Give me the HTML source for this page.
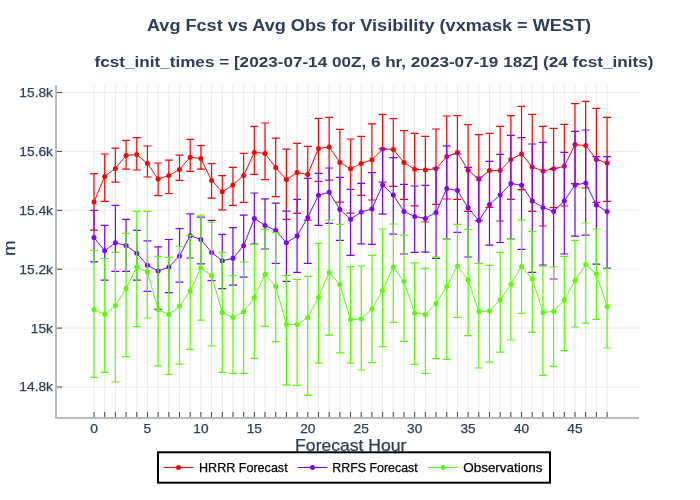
<!DOCTYPE html><html><head><meta charset="utf-8"><style>html,body{margin:0;padding:0;background:#fff;}body{width:700px;height:500px;overflow:hidden;}svg{display:block;will-change:transform;}text{font-family:"Liberation Sans", sans-serif;}</style></head><body>
<svg width="700" height="500" viewBox="0 0 700 500">
<rect width="700" height="500" fill="#fff"/>
<path d="M94.00 85.0V417.0M104.69 85.0V417.0M115.38 85.0V417.0M126.07 85.0V417.0M136.76 85.0V417.0M147.44 85.0V417.0M158.13 85.0V417.0M168.82 85.0V417.0M179.51 85.0V417.0M190.20 85.0V417.0M200.89 85.0V417.0M211.58 85.0V417.0M222.27 85.0V417.0M232.96 85.0V417.0M243.65 85.0V417.0M254.34 85.0V417.0M265.02 85.0V417.0M275.71 85.0V417.0M286.40 85.0V417.0M297.09 85.0V417.0M307.78 85.0V417.0M318.47 85.0V417.0M329.16 85.0V417.0M339.85 85.0V417.0M350.54 85.0V417.0M361.23 85.0V417.0M371.91 85.0V417.0M382.60 85.0V417.0M393.29 85.0V417.0M403.98 85.0V417.0M414.67 85.0V417.0M425.36 85.0V417.0M436.05 85.0V417.0M446.74 85.0V417.0M457.43 85.0V417.0M468.12 85.0V417.0M478.80 85.0V417.0M489.49 85.0V417.0M500.18 85.0V417.0M510.87 85.0V417.0M521.56 85.0V417.0M532.25 85.0V417.0M542.94 85.0V417.0M553.63 85.0V417.0M564.32 85.0V417.0M575.00 85.0V417.0M585.69 85.0V417.0M596.38 85.0V417.0M607.07 85.0V417.0" stroke="#ebebeb" stroke-width="1" fill="none"/>
<path d="M57.0 92.5H639.0M57.0 151.4H639.0M57.0 210.3H639.0M57.0 269.2H639.0M57.0 328.1H639.0M57.0 387.0H639.0" stroke="#ebebeb" stroke-width="1" fill="none"/>
<path d="M94.00 173.6V230.2M90.00 173.6H98.00M90.00 230.2H98.00M104.69 154.0V201.4M100.69 154.0H108.69M100.69 201.4H108.69M115.38 148.2V182.2M111.38 148.2H119.38M111.38 182.2H119.38M126.07 140.4V169.2M122.07 140.4H130.07M122.07 169.2H130.07M136.76 137.6V170.0M132.76 137.6H140.76M132.76 170.0H140.76M147.44 146.0V177.0M143.44 146.0H151.44M143.44 177.0H151.44M158.13 163.0V195.6M154.13 163.0H162.13M154.13 195.6H162.13M168.82 160.2V193.5M164.82 160.2H172.82M164.82 193.5H172.82M179.51 155.2V180.4M175.51 155.2H183.51M175.51 180.4H183.51M190.20 139.4V171.3M186.20 139.4H194.20M186.20 171.3H194.20M200.89 145.6V169.2M196.89 145.6H204.89M196.89 169.2H204.89M211.58 163.6V198.2M207.58 163.6H215.58M207.58 198.2H215.58M222.27 175.6V209.8M218.27 175.6H226.27M218.27 209.8H226.27M232.96 167.4V205.4M228.96 167.4H236.96M228.96 205.4H236.96M243.65 153.4V202.4M239.65 153.4H247.65M239.65 202.4H247.65M254.34 126.4V174.4M250.34 126.4H258.34M250.34 174.4H258.34M265.02 123.0V179.7M261.02 123.0H269.02M261.02 179.7H269.02M275.71 138.2V196.6M271.71 138.2H279.71M271.71 196.6H279.71M286.40 149.2V219.4M282.40 149.2H290.40M282.40 219.4H290.40M297.09 143.4V213.4M293.09 143.4H301.09M293.09 213.4H301.09M307.78 146.4V220.2M303.78 146.4H311.78M303.78 220.2H311.78M318.47 118.4V181.4M314.47 118.4H322.47M314.47 181.4H322.47M329.16 117.4V180.2M325.16 117.4H333.16M325.16 180.2H333.16M339.85 129.4V202.2M335.85 129.4H343.85M335.85 202.2H343.85M350.54 139.0V213.2M346.54 139.0H354.54M346.54 213.2H354.54M361.23 136.4V195.4M357.23 136.4H365.23M357.23 195.4H365.23M371.91 123.8V200.0M367.91 123.8H375.91M367.91 200.0H375.91M382.60 114.4V182.1M378.60 114.4H386.60M378.60 182.1H386.60M393.29 118.6V186.3M389.29 118.6H397.29M389.29 186.3H397.29M403.98 130.6V199.4M399.98 130.6H407.98M399.98 199.4H407.98M414.67 133.4V205.8M410.67 133.4H418.67M410.67 205.8H418.67M425.36 136.4V222.0M421.36 136.4H429.36M421.36 222.0H429.36M436.05 129.0V204.4M432.05 129.0H440.05M432.05 204.4H440.05M446.74 116.0V199.0M442.74 116.0H450.74M442.74 199.0H450.74M457.43 115.6V199.4M453.43 115.6H461.43M453.43 199.4H461.43M468.12 124.6V211.4M464.12 124.6H472.12M464.12 211.4H472.12M478.80 134.6V220.6M474.80 134.6H482.80M474.80 220.6H482.80M489.49 133.4V207.4M485.49 133.4H493.49M485.49 207.4H493.49M500.18 126.4V221.0M496.18 126.4H504.18M496.18 221.0H504.18M510.87 115.6V199.4M506.87 115.6H514.87M506.87 199.4H514.87M521.56 106.4V189.6M517.56 106.4H525.56M517.56 189.6H525.56M532.25 114.4V211.4M528.25 114.4H536.25M528.25 211.4H536.25M542.94 126.4V226.0M538.94 126.4H546.94M538.94 226.0H546.94M553.63 128.4V207.6M549.63 128.4H557.63M549.63 207.6H557.63M564.32 124.4V206.0M560.32 124.4H568.32M560.32 206.0H568.32M575.00 103.6V183.6M571.00 103.6H579.00M571.00 183.6H579.00M585.69 101.4V188.0M581.69 101.4H589.69M581.69 188.0H589.69M596.38 108.4V202.4M592.38 108.4H600.38M592.38 202.4H600.38M607.07 117.4V201.4M603.07 117.4H611.07M603.07 201.4H611.07" stroke="#ff0000" stroke-width="1.2" fill="none" opacity="1.0"/>
<polyline points="94.00,202.0 104.69,176.4 115.38,168.4 126.07,155.4 136.76,154.6 147.44,163.6 158.13,179.0 168.82,175.5 179.51,169.5 190.20,157.2 200.89,158.6 211.58,180.4 222.27,191.8 232.96,185.0 243.65,175.4 254.34,152.4 265.02,153.4 275.71,167.5 286.40,179.6 297.09,172.6 307.78,174.4 318.47,148.4 329.16,147.0 339.85,162.4 350.54,168.7 361.23,163.4 371.91,159.8 382.60,149.0 393.29,149.4 403.98,162.6 414.67,169.2 425.36,169.9 436.05,168.8 446.74,156.6 457.43,152.6 468.12,170.2 478.80,179.2 489.49,170.6 500.18,170.5 510.87,159.4 521.56,154.0 532.25,167.0 542.94,171.0 553.63,168.8 564.32,166.3 575.00,144.6 585.69,145.6 596.38,159.4 607.07,163.0" stroke="#ff0000" stroke-width="1.0" fill="none"/>
<circle cx="94.00" cy="202.0" r="2.5" fill="#ff0000"/>
<circle cx="104.69" cy="176.4" r="2.5" fill="#ff0000"/>
<circle cx="115.38" cy="168.4" r="2.5" fill="#ff0000"/>
<circle cx="126.07" cy="155.4" r="2.5" fill="#ff0000"/>
<circle cx="136.76" cy="154.6" r="2.5" fill="#ff0000"/>
<circle cx="147.44" cy="163.6" r="2.5" fill="#ff0000"/>
<circle cx="158.13" cy="179.0" r="2.5" fill="#ff0000"/>
<circle cx="168.82" cy="175.5" r="2.5" fill="#ff0000"/>
<circle cx="179.51" cy="169.5" r="2.5" fill="#ff0000"/>
<circle cx="190.20" cy="157.2" r="2.5" fill="#ff0000"/>
<circle cx="200.89" cy="158.6" r="2.5" fill="#ff0000"/>
<circle cx="211.58" cy="180.4" r="2.5" fill="#ff0000"/>
<circle cx="222.27" cy="191.8" r="2.5" fill="#ff0000"/>
<circle cx="232.96" cy="185.0" r="2.5" fill="#ff0000"/>
<circle cx="243.65" cy="175.4" r="2.5" fill="#ff0000"/>
<circle cx="254.34" cy="152.4" r="2.5" fill="#ff0000"/>
<circle cx="265.02" cy="153.4" r="2.5" fill="#ff0000"/>
<circle cx="275.71" cy="167.5" r="2.5" fill="#ff0000"/>
<circle cx="286.40" cy="179.6" r="2.5" fill="#ff0000"/>
<circle cx="297.09" cy="172.6" r="2.5" fill="#ff0000"/>
<circle cx="307.78" cy="174.4" r="2.5" fill="#ff0000"/>
<circle cx="318.47" cy="148.4" r="2.5" fill="#ff0000"/>
<circle cx="329.16" cy="147.0" r="2.5" fill="#ff0000"/>
<circle cx="339.85" cy="162.4" r="2.5" fill="#ff0000"/>
<circle cx="350.54" cy="168.7" r="2.5" fill="#ff0000"/>
<circle cx="361.23" cy="163.4" r="2.5" fill="#ff0000"/>
<circle cx="371.91" cy="159.8" r="2.5" fill="#ff0000"/>
<circle cx="382.60" cy="149.0" r="2.5" fill="#ff0000"/>
<circle cx="393.29" cy="149.4" r="2.5" fill="#ff0000"/>
<circle cx="403.98" cy="162.6" r="2.5" fill="#ff0000"/>
<circle cx="414.67" cy="169.2" r="2.5" fill="#ff0000"/>
<circle cx="425.36" cy="169.9" r="2.5" fill="#ff0000"/>
<circle cx="436.05" cy="168.8" r="2.5" fill="#ff0000"/>
<circle cx="446.74" cy="156.6" r="2.5" fill="#ff0000"/>
<circle cx="457.43" cy="152.6" r="2.5" fill="#ff0000"/>
<circle cx="468.12" cy="170.2" r="2.5" fill="#ff0000"/>
<circle cx="478.80" cy="179.2" r="2.5" fill="#ff0000"/>
<circle cx="489.49" cy="170.6" r="2.5" fill="#ff0000"/>
<circle cx="500.18" cy="170.5" r="2.5" fill="#ff0000"/>
<circle cx="510.87" cy="159.4" r="2.5" fill="#ff0000"/>
<circle cx="521.56" cy="154.0" r="2.5" fill="#ff0000"/>
<circle cx="532.25" cy="167.0" r="2.5" fill="#ff0000"/>
<circle cx="542.94" cy="171.0" r="2.5" fill="#ff0000"/>
<circle cx="553.63" cy="168.8" r="2.5" fill="#ff0000"/>
<circle cx="564.32" cy="166.3" r="2.5" fill="#ff0000"/>
<circle cx="575.00" cy="144.6" r="2.5" fill="#ff0000"/>
<circle cx="585.69" cy="145.6" r="2.5" fill="#ff0000"/>
<circle cx="596.38" cy="159.4" r="2.5" fill="#ff0000"/>
<circle cx="607.07" cy="163.0" r="2.5" fill="#ff0000"/>
<path d="M94.00 210.4V261.8M90.00 210.4H98.00M90.00 261.8H98.00M104.69 225.4V280.2M100.69 225.4H108.69M100.69 280.2H108.69M115.38 205.4V271.4M111.38 205.4H119.38M111.38 271.4H119.38M126.07 219.4V271.4M122.07 219.4H130.07M122.07 271.4H130.07M136.76 230.4V280.2M132.76 230.4H140.76M132.76 280.2H140.76M147.44 240.8V291.4M143.44 240.8H151.44M143.44 291.4H151.44M158.13 246.8V309.4M154.13 246.8H162.13M154.13 309.4H162.13M168.82 239.5V292.6M164.82 239.5H172.82M164.82 292.6H172.82M179.51 228.6V282.2M175.51 228.6H183.51M175.51 282.2H183.51M190.20 213.8V258.0M186.20 213.8H194.20M186.20 258.0H194.20M200.89 217.2V263.8M196.89 217.2H204.89M196.89 263.8H204.89M211.58 220.4V280.6M207.58 220.4H215.58M207.58 280.6H215.58M222.27 234.4V288.6M218.27 234.4H226.27M218.27 288.6H226.27M232.96 227.6V285.2M228.96 227.6H236.96M228.96 285.2H236.96M243.65 215.2V277.2M239.65 215.2H247.65M239.65 277.2H247.65M254.34 193.0V244.0M250.34 193.0H258.34M250.34 244.0H258.34M265.02 198.8V249.0M261.02 198.8H269.02M261.02 249.0H269.02M275.71 203.2V263.4M271.71 203.2H279.71M271.71 263.4H279.71M286.40 211.2V281.4M282.40 211.2H290.40M282.40 281.4H290.40M297.09 199.4V272.4M293.09 199.4H301.09M293.09 272.4H301.09M307.78 178.4V263.4M303.78 178.4H311.78M303.78 263.4H311.78M318.47 173.4V225.4M314.47 173.4H322.47M314.47 225.4H322.47M329.16 168.0V223.4M325.16 168.0H333.16M325.16 223.4H333.16M339.85 177.4V240.4M335.85 177.4H343.85M335.85 240.4H343.85M350.54 189.4V255.4M346.54 189.4H354.54M346.54 255.4H354.54M361.23 183.4V243.8M357.23 183.4H365.23M357.23 243.8H365.23M371.91 172.6V244.4M367.91 172.6H375.91M367.91 244.4H375.91M382.60 148.6V214.2M378.60 148.6H386.60M378.60 214.2H386.60M393.29 157.6V234.2M389.29 157.6H397.29M389.29 234.2H397.29M403.98 184.4V254.0M399.98 184.4H407.98M399.98 254.0H407.98M414.67 186.0V252.4M410.67 186.0H418.67M410.67 252.4H418.67M425.36 185.3V252.2M421.36 185.3H429.36M421.36 252.2H429.36M436.05 168.0V258.4M432.05 168.0H440.05M432.05 258.4H440.05M446.74 145.8V239.0M442.74 145.8H450.74M442.74 239.0H450.74M457.43 154.0V232.4M453.43 154.0H461.43M453.43 232.4H461.43M468.12 167.4V257.0M464.12 167.4H472.12M464.12 257.0H472.12M478.80 177.0V263.5M474.80 177.0H482.80M474.80 263.5H482.80M489.49 161.4V245.2M485.49 161.4H493.49M485.49 245.2H493.49M500.18 154.4V242.5M496.18 154.4H504.18M496.18 242.5H504.18M510.87 135.4V239.0M506.87 135.4H514.87M506.87 239.0H514.87M521.56 137.6V249.4M517.56 137.6H525.56M517.56 249.4H525.56M532.25 144.0V272.4M528.25 144.0H536.25M528.25 272.4H536.25M542.94 142.4V265.2M538.94 142.4H546.94M538.94 265.2H546.94M553.63 168.6V279.0M549.63 168.6H557.63M549.63 279.0H557.63M564.32 152.4V254.0M560.32 152.4H568.32M560.32 254.0H568.32M575.00 131.4V236.1M571.00 131.4H579.00M571.00 236.1H579.00M585.69 130.0V235.2M581.69 130.0H589.69M581.69 235.2H589.69M596.38 156.6V264.2M592.38 156.6H600.38M592.38 264.2H600.38M607.07 156.6V268.4M603.07 156.6H611.07M603.07 268.4H611.07" stroke="#7f00ff" stroke-width="1.2" fill="none" opacity="1.0"/>
<polyline points="94.00,237.6 104.69,250.8 115.38,242.8 126.07,245.4 136.76,253.3 147.44,265.3 158.13,271.0 168.82,267.0 179.51,255.9 190.20,235.7 200.89,239.4 211.58,252.5 222.27,260.8 232.96,258.3 243.65,245.7 254.34,218.4 265.02,225.4 275.71,230.6 286.40,242.8 297.09,236.0 307.78,217.4 318.47,195.2 329.16,192.2 339.85,209.4 350.54,219.2 361.23,212.0 371.91,209.0 382.60,185.0 393.29,195.0 403.98,211.6 414.67,216.4 425.36,218.4 436.05,212.4 446.74,188.6 457.43,190.6 468.12,207.8 478.80,220.6 489.49,204.6 500.18,195.0 510.87,183.5 521.56,185.2 532.25,201.0 542.94,207.4 553.63,211.4 564.32,201.0 575.00,185.0 585.69,183.0 596.38,205.0 607.07,211.6" stroke="#7f00ff" stroke-width="1.0" fill="none"/>
<circle cx="94.00" cy="237.6" r="2.5" fill="#7f00ff"/>
<circle cx="104.69" cy="250.8" r="2.5" fill="#7f00ff"/>
<circle cx="115.38" cy="242.8" r="2.5" fill="#7f00ff"/>
<circle cx="126.07" cy="245.4" r="2.5" fill="#7f00ff"/>
<circle cx="136.76" cy="253.3" r="2.5" fill="#7f00ff"/>
<circle cx="147.44" cy="265.3" r="2.5" fill="#7f00ff"/>
<circle cx="158.13" cy="271.0" r="2.5" fill="#7f00ff"/>
<circle cx="168.82" cy="267.0" r="2.5" fill="#7f00ff"/>
<circle cx="179.51" cy="255.9" r="2.5" fill="#7f00ff"/>
<circle cx="190.20" cy="235.7" r="2.5" fill="#7f00ff"/>
<circle cx="200.89" cy="239.4" r="2.5" fill="#7f00ff"/>
<circle cx="211.58" cy="252.5" r="2.5" fill="#7f00ff"/>
<circle cx="222.27" cy="260.8" r="2.5" fill="#7f00ff"/>
<circle cx="232.96" cy="258.3" r="2.5" fill="#7f00ff"/>
<circle cx="243.65" cy="245.7" r="2.5" fill="#7f00ff"/>
<circle cx="254.34" cy="218.4" r="2.5" fill="#7f00ff"/>
<circle cx="265.02" cy="225.4" r="2.5" fill="#7f00ff"/>
<circle cx="275.71" cy="230.6" r="2.5" fill="#7f00ff"/>
<circle cx="286.40" cy="242.8" r="2.5" fill="#7f00ff"/>
<circle cx="297.09" cy="236.0" r="2.5" fill="#7f00ff"/>
<circle cx="307.78" cy="217.4" r="2.5" fill="#7f00ff"/>
<circle cx="318.47" cy="195.2" r="2.5" fill="#7f00ff"/>
<circle cx="329.16" cy="192.2" r="2.5" fill="#7f00ff"/>
<circle cx="339.85" cy="209.4" r="2.5" fill="#7f00ff"/>
<circle cx="350.54" cy="219.2" r="2.5" fill="#7f00ff"/>
<circle cx="361.23" cy="212.0" r="2.5" fill="#7f00ff"/>
<circle cx="371.91" cy="209.0" r="2.5" fill="#7f00ff"/>
<circle cx="382.60" cy="185.0" r="2.5" fill="#7f00ff"/>
<circle cx="393.29" cy="195.0" r="2.5" fill="#7f00ff"/>
<circle cx="403.98" cy="211.6" r="2.5" fill="#7f00ff"/>
<circle cx="414.67" cy="216.4" r="2.5" fill="#7f00ff"/>
<circle cx="425.36" cy="218.4" r="2.5" fill="#7f00ff"/>
<circle cx="436.05" cy="212.4" r="2.5" fill="#7f00ff"/>
<circle cx="446.74" cy="188.6" r="2.5" fill="#7f00ff"/>
<circle cx="457.43" cy="190.6" r="2.5" fill="#7f00ff"/>
<circle cx="468.12" cy="207.8" r="2.5" fill="#7f00ff"/>
<circle cx="478.80" cy="220.6" r="2.5" fill="#7f00ff"/>
<circle cx="489.49" cy="204.6" r="2.5" fill="#7f00ff"/>
<circle cx="500.18" cy="195.0" r="2.5" fill="#7f00ff"/>
<circle cx="510.87" cy="183.5" r="2.5" fill="#7f00ff"/>
<circle cx="521.56" cy="185.2" r="2.5" fill="#7f00ff"/>
<circle cx="532.25" cy="201.0" r="2.5" fill="#7f00ff"/>
<circle cx="542.94" cy="207.4" r="2.5" fill="#7f00ff"/>
<circle cx="553.63" cy="211.4" r="2.5" fill="#7f00ff"/>
<circle cx="564.32" cy="201.0" r="2.5" fill="#7f00ff"/>
<circle cx="575.00" cy="185.0" r="2.5" fill="#7f00ff"/>
<circle cx="585.69" cy="183.0" r="2.5" fill="#7f00ff"/>
<circle cx="596.38" cy="205.0" r="2.5" fill="#7f00ff"/>
<circle cx="607.07" cy="211.6" r="2.5" fill="#7f00ff"/>
<path d="M94.00 250.3V377.4M90.00 250.3H98.00M90.00 377.4H98.00M104.69 258.5V372.4M100.69 258.5H108.69M100.69 372.4H108.69M115.38 252.4V382.0M111.38 252.4H119.38M111.38 382.0H119.38M126.07 233.4V356.6M122.07 233.4H130.07M122.07 356.6H130.07M136.76 211.4V326.6M132.76 211.4H140.76M132.76 326.6H140.76M147.44 211.4V318.0M143.44 211.4H151.44M143.44 318.0H151.44M158.13 256.4V365.8M154.13 256.4H162.13M154.13 365.8H162.13M168.82 257.4V374.4M164.82 257.4H172.82M164.82 374.4H172.82M179.51 246.5V364.2M175.51 246.5H183.51M175.51 364.2H183.51M190.20 235.4V349.4M186.20 235.4H194.20M186.20 349.4H194.20M200.89 215.0V320.2M196.89 215.0H204.89M196.89 320.2H204.89M211.58 222.0V346.0M207.58 222.0H215.58M207.58 346.0H215.58M222.27 252.4V372.4M218.27 252.4H226.27M218.27 372.4H226.27M232.96 275.6V373.4M228.96 275.6H236.96M228.96 373.4H236.96M243.65 261.8V373.4M239.65 261.8H247.65M239.65 373.4H247.65M254.34 244.6V358.4M250.34 244.6H258.34M250.34 358.4H258.34M265.02 229.4V326.4M261.02 229.4H269.02M261.02 326.4H269.02M275.71 232.6V341.6M271.71 232.6H279.71M271.71 341.6H279.71M286.40 275.4V384.8M282.40 275.4H290.40M282.40 384.8H290.40M297.09 279.4V385.4M293.09 279.4H301.09M293.09 385.4H301.09M307.78 276.4V395.4M303.78 276.4H311.78M303.78 395.4H311.78M318.47 243.4V363.2M314.47 243.4H322.47M314.47 363.2H322.47M329.16 220.0V335.4M325.16 220.0H333.16M325.16 335.4H333.16M339.85 224.4V352.8M335.85 224.4H343.85M335.85 352.8H343.85M350.54 266.6V363.2M346.54 266.6H354.54M346.54 363.2H354.54M361.23 266.0V370.0M357.23 266.0H365.23M357.23 370.0H365.23M371.91 255.4V362.6M367.91 255.4H375.91M367.91 362.6H375.91M382.60 229.0V346.6M378.60 229.0H386.60M378.60 346.6H386.60M393.29 224.0V322.4M389.29 224.0H397.29M389.29 322.4H397.29M403.98 235.2V341.4M399.98 235.2H407.98M399.98 341.4H407.98M414.67 262.8V364.4M410.67 262.8H418.67M410.67 364.4H418.67M425.36 268.4V373.4M421.36 268.4H429.36M421.36 373.4H429.36M436.05 257.2V358.6M432.05 257.2H440.05M432.05 358.6H440.05M446.74 239.0V359.4M442.74 239.0H450.74M442.74 359.4H450.74M457.43 224.4V317.4M453.43 224.4H461.43M453.43 317.4H461.43M468.12 229.4V335.6M464.12 229.4H472.12M464.12 335.6H472.12M478.80 263.4V368.0M474.80 263.4H482.80M474.80 368.0H482.80M489.49 265.4V362.2M485.49 265.4H493.49M485.49 362.2H493.49M500.18 252.3V352.2M496.18 252.3H504.18M496.18 352.2H504.18M510.87 239.1V340.0M506.87 239.1H514.87M506.87 340.0H514.87M521.56 220.2V313.4M517.56 220.2H525.56M517.56 313.4H525.56M532.25 231.4V332.4M528.25 231.4H536.25M528.25 332.4H536.25M542.94 266.0V375.4M538.94 266.0H546.94M538.94 375.4H546.94M553.63 267.0V366.4M549.63 267.0H557.63M549.63 366.4H557.63M564.32 256.4V350.6M560.32 256.4H568.32M560.32 350.6H568.32M575.00 240.4V327.0M571.00 240.4H579.00M571.00 327.0H579.00M585.69 223.0V323.2M581.69 223.0H589.69M581.69 323.2H589.69M596.38 229.0V319.4M592.38 229.0H600.38M592.38 319.4H600.38M607.07 268.0V348.0M603.07 268.0H611.07M603.07 348.0H611.07" stroke="#55ff00" stroke-width="1.2" fill="none" opacity="1.0"/>
<polyline points="94.00,309.6 104.69,314.4 115.38,305.6 126.07,288.6 136.76,267.0 147.44,272.0 158.13,309.6 168.82,314.4 179.51,306.0 190.20,291.0 200.89,268.0 211.58,275.6 222.27,312.6 232.96,317.4 243.65,311.8 254.34,297.6 265.02,274.6 275.71,286.6 286.40,324.4 297.09,324.4 307.78,317.4 318.47,297.6 329.16,272.4 339.85,284.4 350.54,319.6 361.23,319.0 371.91,309.0 382.60,290.6 393.29,267.0 403.98,281.6 414.67,313.0 425.36,314.4 436.05,303.4 446.74,286.4 457.43,266.0 468.12,280.0 478.80,311.6 489.49,311.0 500.18,300.0 510.87,284.4 521.56,266.4 532.25,279.0 542.94,312.4 553.63,311.4 564.32,300.0 575.00,280.6 585.69,264.6 596.38,274.0 607.07,306.4" stroke="#55ff00" stroke-width="1.0" fill="none"/>
<circle cx="94.00" cy="309.6" r="2.5" fill="#55ff00"/>
<circle cx="104.69" cy="314.4" r="2.5" fill="#55ff00"/>
<circle cx="115.38" cy="305.6" r="2.5" fill="#55ff00"/>
<circle cx="126.07" cy="288.6" r="2.5" fill="#55ff00"/>
<circle cx="136.76" cy="267.0" r="2.5" fill="#55ff00"/>
<circle cx="147.44" cy="272.0" r="2.5" fill="#55ff00"/>
<circle cx="158.13" cy="309.6" r="2.5" fill="#55ff00"/>
<circle cx="168.82" cy="314.4" r="2.5" fill="#55ff00"/>
<circle cx="179.51" cy="306.0" r="2.5" fill="#55ff00"/>
<circle cx="190.20" cy="291.0" r="2.5" fill="#55ff00"/>
<circle cx="200.89" cy="268.0" r="2.5" fill="#55ff00"/>
<circle cx="211.58" cy="275.6" r="2.5" fill="#55ff00"/>
<circle cx="222.27" cy="312.6" r="2.5" fill="#55ff00"/>
<circle cx="232.96" cy="317.4" r="2.5" fill="#55ff00"/>
<circle cx="243.65" cy="311.8" r="2.5" fill="#55ff00"/>
<circle cx="254.34" cy="297.6" r="2.5" fill="#55ff00"/>
<circle cx="265.02" cy="274.6" r="2.5" fill="#55ff00"/>
<circle cx="275.71" cy="286.6" r="2.5" fill="#55ff00"/>
<circle cx="286.40" cy="324.4" r="2.5" fill="#55ff00"/>
<circle cx="297.09" cy="324.4" r="2.5" fill="#55ff00"/>
<circle cx="307.78" cy="317.4" r="2.5" fill="#55ff00"/>
<circle cx="318.47" cy="297.6" r="2.5" fill="#55ff00"/>
<circle cx="329.16" cy="272.4" r="2.5" fill="#55ff00"/>
<circle cx="339.85" cy="284.4" r="2.5" fill="#55ff00"/>
<circle cx="350.54" cy="319.6" r="2.5" fill="#55ff00"/>
<circle cx="361.23" cy="319.0" r="2.5" fill="#55ff00"/>
<circle cx="371.91" cy="309.0" r="2.5" fill="#55ff00"/>
<circle cx="382.60" cy="290.6" r="2.5" fill="#55ff00"/>
<circle cx="393.29" cy="267.0" r="2.5" fill="#55ff00"/>
<circle cx="403.98" cy="281.6" r="2.5" fill="#55ff00"/>
<circle cx="414.67" cy="313.0" r="2.5" fill="#55ff00"/>
<circle cx="425.36" cy="314.4" r="2.5" fill="#55ff00"/>
<circle cx="436.05" cy="303.4" r="2.5" fill="#55ff00"/>
<circle cx="446.74" cy="286.4" r="2.5" fill="#55ff00"/>
<circle cx="457.43" cy="266.0" r="2.5" fill="#55ff00"/>
<circle cx="468.12" cy="280.0" r="2.5" fill="#55ff00"/>
<circle cx="478.80" cy="311.6" r="2.5" fill="#55ff00"/>
<circle cx="489.49" cy="311.0" r="2.5" fill="#55ff00"/>
<circle cx="500.18" cy="300.0" r="2.5" fill="#55ff00"/>
<circle cx="510.87" cy="284.4" r="2.5" fill="#55ff00"/>
<circle cx="521.56" cy="266.4" r="2.5" fill="#55ff00"/>
<circle cx="532.25" cy="279.0" r="2.5" fill="#55ff00"/>
<circle cx="542.94" cy="312.4" r="2.5" fill="#55ff00"/>
<circle cx="553.63" cy="311.4" r="2.5" fill="#55ff00"/>
<circle cx="564.32" cy="300.0" r="2.5" fill="#55ff00"/>
<circle cx="575.00" cy="280.6" r="2.5" fill="#55ff00"/>
<circle cx="585.69" cy="264.6" r="2.5" fill="#55ff00"/>
<circle cx="596.38" cy="274.0" r="2.5" fill="#55ff00"/>
<circle cx="607.07" cy="306.4" r="2.5" fill="#55ff00"/>
<path d="M56.0 85.0V418.0H639.0" stroke="#bcbcbc" stroke-width="2" fill="none"/>
<path d="M57.0 92.5H62.0M57.0 151.4H62.0M57.0 210.3H62.0M57.0 269.2H62.0M57.0 328.1H62.0M57.0 387.0H62.0M94.00 417.0V412.0M104.69 417.0V412.0M115.38 417.0V412.0M126.07 417.0V412.0M136.76 417.0V412.0M147.44 417.0V412.0M158.13 417.0V412.0M168.82 417.0V412.0M179.51 417.0V412.0M190.20 417.0V412.0M200.89 417.0V412.0M211.58 417.0V412.0M222.27 417.0V412.0M232.96 417.0V412.0M243.65 417.0V412.0M254.34 417.0V412.0M265.02 417.0V412.0M275.71 417.0V412.0M286.40 417.0V412.0M297.09 417.0V412.0M307.78 417.0V412.0M318.47 417.0V412.0M329.16 417.0V412.0M339.85 417.0V412.0M350.54 417.0V412.0M361.23 417.0V412.0M371.91 417.0V412.0M382.60 417.0V412.0M393.29 417.0V412.0M403.98 417.0V412.0M414.67 417.0V412.0M425.36 417.0V412.0M436.05 417.0V412.0M446.74 417.0V412.0M457.43 417.0V412.0M468.12 417.0V412.0M478.80 417.0V412.0M489.49 417.0V412.0M500.18 417.0V412.0M510.87 417.0V412.0M521.56 417.0V412.0M532.25 417.0V412.0M542.94 417.0V412.0M553.63 417.0V412.0M564.32 417.0V412.0M575.00 417.0V412.0M585.69 417.0V412.0M596.38 417.0V412.0M607.07 417.0V412.0" stroke="#444" stroke-width="1" fill="none"/>
<text x="53.00" y="96.90" font-size="12.7" stroke="#2a3f5f" stroke-width="0.25" fill="#2a3f5f" text-anchor="end" textLength="33.67" lengthAdjust="spacingAndGlyphs">15.8k</text>
<text x="53.00" y="155.80" font-size="12.7" stroke="#2a3f5f" stroke-width="0.25" fill="#2a3f5f" text-anchor="end" textLength="33.67" lengthAdjust="spacingAndGlyphs">15.6k</text>
<text x="53.00" y="214.70" font-size="12.7" stroke="#2a3f5f" stroke-width="0.25" fill="#2a3f5f" text-anchor="end" textLength="33.67" lengthAdjust="spacingAndGlyphs">15.4k</text>
<text x="53.00" y="273.60" font-size="12.7" stroke="#2a3f5f" stroke-width="0.25" fill="#2a3f5f" text-anchor="end" textLength="33.67" lengthAdjust="spacingAndGlyphs">15.2k</text>
<text x="53.00" y="332.50" font-size="12.7" stroke="#2a3f5f" stroke-width="0.25" fill="#2a3f5f" text-anchor="end" textLength="22.22" lengthAdjust="spacingAndGlyphs">15k</text>
<text x="53.00" y="391.40" font-size="12.7" stroke="#2a3f5f" stroke-width="0.25" fill="#2a3f5f" text-anchor="end" textLength="33.67" lengthAdjust="spacingAndGlyphs">14.8k</text>
<text x="94.00" y="433.20" font-size="12.7" stroke="#2a3f5f" stroke-width="0.25" fill="#2a3f5f" text-anchor="middle" textLength="7.64" lengthAdjust="spacingAndGlyphs">0</text>
<text x="147.44" y="433.20" font-size="12.7" stroke="#2a3f5f" stroke-width="0.25" fill="#2a3f5f" text-anchor="middle" textLength="7.64" lengthAdjust="spacingAndGlyphs">5</text>
<text x="200.89" y="433.20" font-size="12.7" stroke="#2a3f5f" stroke-width="0.25" fill="#2a3f5f" text-anchor="middle" textLength="15.27" lengthAdjust="spacingAndGlyphs">10</text>
<text x="254.34" y="433.20" font-size="12.7" stroke="#2a3f5f" stroke-width="0.25" fill="#2a3f5f" text-anchor="middle" textLength="15.27" lengthAdjust="spacingAndGlyphs">15</text>
<text x="307.78" y="433.20" font-size="12.7" stroke="#2a3f5f" stroke-width="0.25" fill="#2a3f5f" text-anchor="middle" textLength="15.27" lengthAdjust="spacingAndGlyphs">20</text>
<text x="361.23" y="433.20" font-size="12.7" stroke="#2a3f5f" stroke-width="0.25" fill="#2a3f5f" text-anchor="middle" textLength="15.27" lengthAdjust="spacingAndGlyphs">25</text>
<text x="414.67" y="433.20" font-size="12.7" stroke="#2a3f5f" stroke-width="0.25" fill="#2a3f5f" text-anchor="middle" textLength="15.27" lengthAdjust="spacingAndGlyphs">30</text>
<text x="468.12" y="433.20" font-size="12.7" stroke="#2a3f5f" stroke-width="0.25" fill="#2a3f5f" text-anchor="middle" textLength="15.27" lengthAdjust="spacingAndGlyphs">35</text>
<text x="521.56" y="433.20" font-size="12.7" stroke="#2a3f5f" stroke-width="0.25" fill="#2a3f5f" text-anchor="middle" textLength="15.27" lengthAdjust="spacingAndGlyphs">40</text>
<text x="575.00" y="433.20" font-size="12.7" stroke="#2a3f5f" stroke-width="0.25" fill="#2a3f5f" text-anchor="middle" textLength="15.27" lengthAdjust="spacingAndGlyphs">45</text>
<text x="369.00" y="31.10" font-size="16.0" font-weight="bold" fill="#2a3f5f" text-anchor="middle" textLength="444.19" lengthAdjust="spacingAndGlyphs">Avg Fcst vs Avg Obs for Visibility (vxmask = WEST)</text>
<text x="374.00" y="66.60" font-size="14.8" font-weight="bold" fill="#2a3f5f" text-anchor="middle" textLength="558.83" lengthAdjust="spacingAndGlyphs">fcst_init_times = [2023-07-14 00Z, 6 hr, 2023-07-19 18Z] (24 fcst_inits)</text>
<text x="350.80" y="451.20" font-size="16.9" stroke="#2a3f5f" stroke-width="0.25" fill="#2a3f5f" text-anchor="middle" textLength="111.33" lengthAdjust="spacingAndGlyphs">Forecast Hour</text>
<text transform="translate(15,248.3) rotate(-90)" x="0" y="0" font-size="16.9" fill="#2a3f5f" stroke="#2a3f5f" stroke-width="0.25" text-anchor="middle" textLength="15.59" lengthAdjust="spacingAndGlyphs">m</text>
<rect x="158" y="452.3" width="392" height="30.4" fill="#fff" stroke="#000" stroke-width="2"/>
<path d="M163.5 467.5H193.5" stroke="#ff0000" stroke-width="1.0"/>
<circle cx="178.5" cy="467.5" r="2.5" fill="#ff0000"/>
<text x="199.00" y="471.70" font-size="12.7" stroke="#000" stroke-width="0.25" fill="#000" text-anchor="start" textLength="88.63" lengthAdjust="spacingAndGlyphs">HRRR Forecast</text>
<path d="M297.5 467.5H327.5" stroke="#7f00ff" stroke-width="1.0"/>
<circle cx="312.5" cy="467.5" r="2.5" fill="#7f00ff"/>
<text x="332.20" y="471.70" font-size="12.7" stroke="#000" stroke-width="0.25" fill="#000" text-anchor="start" textLength="85.58" lengthAdjust="spacingAndGlyphs">RRFS Forecast</text>
<path d="M428.1 467.5H458.1" stroke="#55ff00" stroke-width="1.0"/>
<circle cx="443.1" cy="467.5" r="2.5" fill="#55ff00"/>
<text x="463.20" y="471.70" font-size="12.7" stroke="#000" stroke-width="0.25" fill="#000" text-anchor="start" textLength="79.33" lengthAdjust="spacingAndGlyphs">Observations</text>
</svg></body></html>
